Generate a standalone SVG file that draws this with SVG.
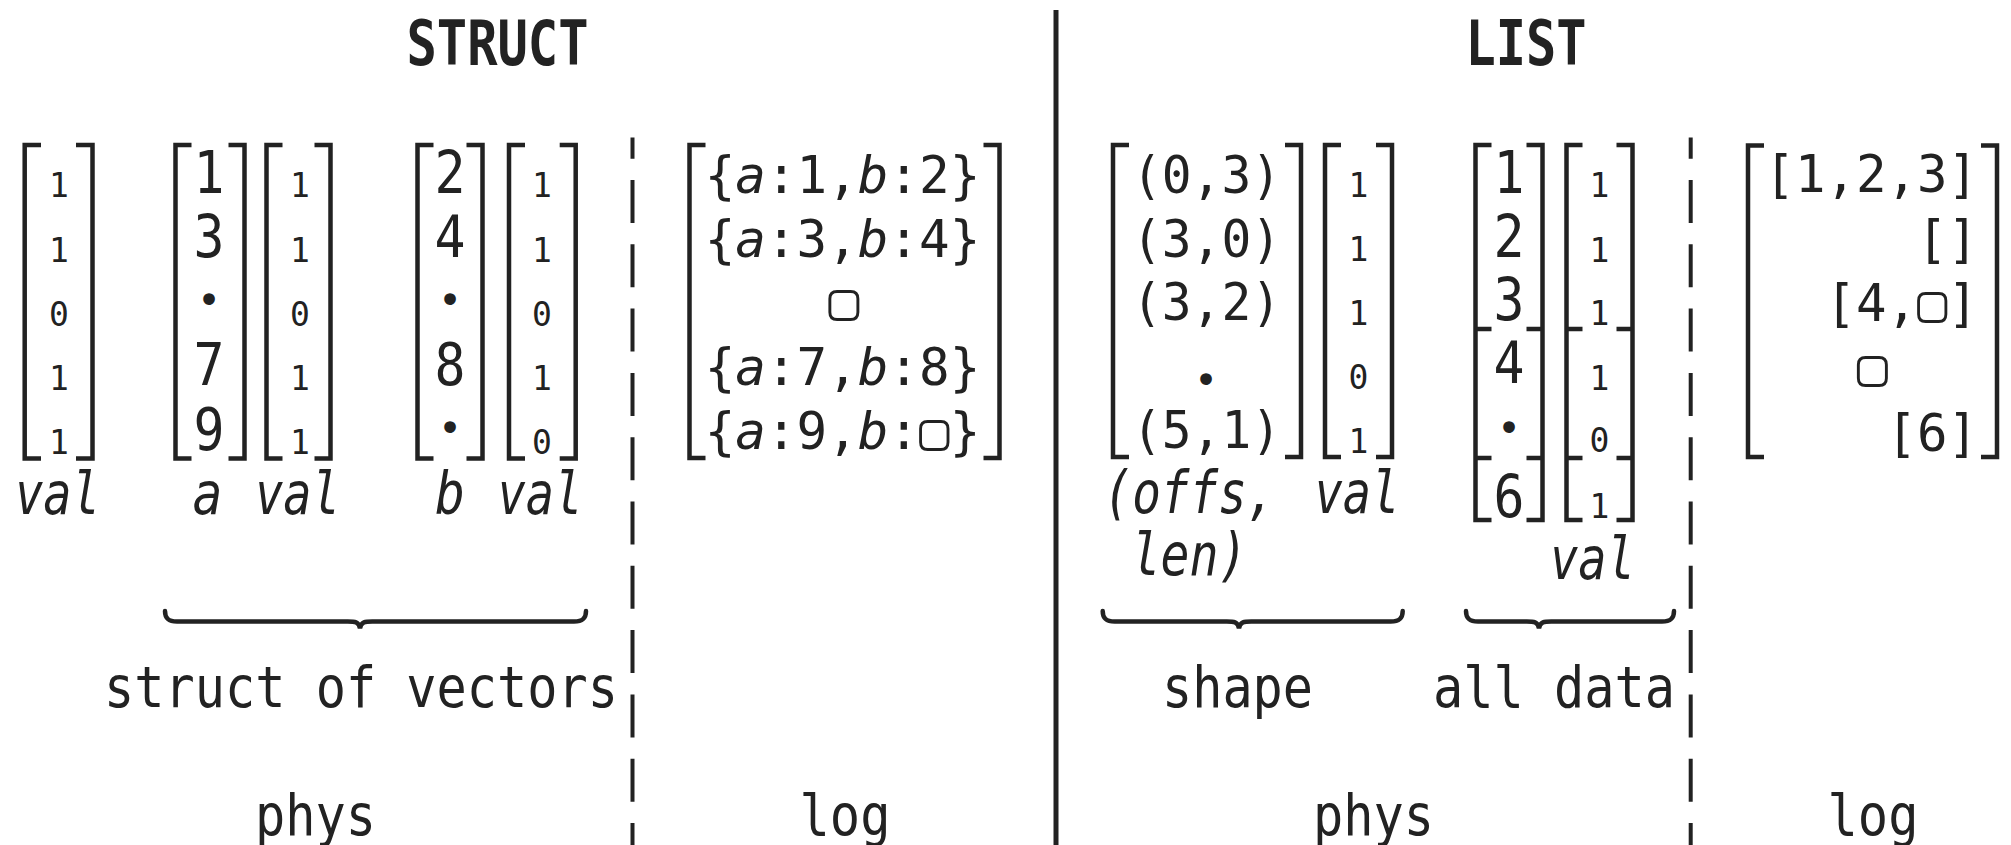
<svg xmlns="http://www.w3.org/2000/svg" width="2011" height="845" viewBox="0 0 2011 845">
<style>
text{font-family:"DejaVu Sans Mono","Liberation Mono",monospace;fill:#222;text-anchor:middle}
.t{font-weight:bold;font-size:62px}
.big{font-size:59px}
.sm{font-size:33px}
.lg{font-size:52px}
.lb{font-size:57px}
.it{font-style:italic;font-size:58px}
.dot{font-size:40px}
.br{fill:none;stroke:#222;stroke-width:4.5;stroke-linecap:butt;stroke-linejoin:miter}
.brace{fill:none;stroke:#222;stroke-width:4.5;stroke-linecap:round}
.dash{stroke:#222;stroke-width:4;stroke-dasharray:43 21.3;stroke-dashoffset:21.8}
.solid{stroke:#222;stroke-width:5}
</style>

<g id="titles">
<text class="t" x="497.5" y="65" textLength="182" lengthAdjust="spacingAndGlyphs">STRUCT</text>
<text class="t" x="1526" y="65" textLength="121" lengthAdjust="spacingAndGlyphs">LIST</text>
</g>

<g id="dividers">
<line class="solid" x1="1056" y1="10" x2="1056" y2="845"/>
<line class="dash" x1="632.5" y1="137.5" x2="632.5" y2="845"/>
<line class="dash" x1="1690.7" y1="137.5" x2="1690.7" y2="845"/>
</g>

<!-- STRUCT physical -->
<g id="struct-val">
<path class="br" d="M41,145 H24.7 V458.5 H41 M76,145 H92.5 V458.5 H76"/>
<text class="sm" x="59" y="197">1</text>
<text class="sm" x="59" y="262">1</text>
<text class="sm" x="59" y="326">0</text>
<text class="sm" x="59" y="390">1</text>
<text class="sm" x="59" y="454">1</text>
<text class="it" x="57.5" y="514" textLength="85" lengthAdjust="spacingAndGlyphs">val</text>
</g>

<g id="struct-a">
<path class="br" d="M191.5,145 H175.5 V458.5 H191.5 M228.5,145 H244.5 V458.5 H228.5"/>
<text class="big" x="209" y="193" textLength="31" lengthAdjust="spacingAndGlyphs">1</text>
<text class="big" x="209" y="257" textLength="31" lengthAdjust="spacingAndGlyphs">3</text>
<text class="dot" x="209" y="314">•</text>
<text class="big" x="209" y="385" textLength="31" lengthAdjust="spacingAndGlyphs">7</text>
<text class="big" x="209" y="450" textLength="31" lengthAdjust="spacingAndGlyphs">9</text>
<text class="it" x="207.5" y="514" textLength="30" lengthAdjust="spacingAndGlyphs">a</text>
</g>

<g id="struct-a-val">
<path class="br" d="M282.5,145 H266.5 V458.5 H282.5 M314.5,145 H330.5 V458.5 H314.5"/>
<text class="sm" x="300" y="197">1</text>
<text class="sm" x="300" y="262">1</text>
<text class="sm" x="300" y="326">0</text>
<text class="sm" x="300" y="390">1</text>
<text class="sm" x="300" y="454">1</text>
<text class="it" x="297.5" y="514" textLength="85" lengthAdjust="spacingAndGlyphs">val</text>
</g>

<g id="struct-b">
<path class="br" d="M433.5,145 H417.5 V458.5 H433.5 M466.5,145 H482.5 V458.5 H466.5"/>
<text class="big" x="450" y="193" textLength="31" lengthAdjust="spacingAndGlyphs">2</text>
<text class="big" x="450" y="257" textLength="31" lengthAdjust="spacingAndGlyphs">4</text>
<text class="dot" x="450" y="314">•</text>
<text class="big" x="450" y="385" textLength="31" lengthAdjust="spacingAndGlyphs">8</text>
<text class="dot" x="450" y="442">•</text>
<text class="it" x="450" y="514" textLength="30" lengthAdjust="spacingAndGlyphs">b</text>
</g>

<g id="struct-b-val">
<path class="br" d="M525,145 H509 V458.5 H525 M559.7,145 H575.7 V458.5 H559.7"/>
<text class="sm" x="542" y="197">1</text>
<text class="sm" x="542" y="262">1</text>
<text class="sm" x="542" y="326">0</text>
<text class="sm" x="542" y="390">1</text>
<text class="sm" x="542" y="454">0</text>
<text class="it" x="540" y="514" textLength="85" lengthAdjust="spacingAndGlyphs">val</text>
</g>

<g id="struct-log">
<path class="br" d="M705.5,145 H689.5 V458 H705.5 M983.5,145 H999.5 V458 H983.5"/>
<text class="lg" x="842.5" y="193" textLength="275.6" lengthAdjust="spacingAndGlyphs">{<tspan font-style="italic">a</tspan>:1,<tspan font-style="italic">b</tspan>:2}</text>
<text class="lg" x="842.5" y="257" textLength="275.6" lengthAdjust="spacingAndGlyphs">{<tspan font-style="italic">a</tspan>:3,<tspan font-style="italic">b</tspan>:4}</text>
<text class="lg" x="844" y="319">▢</text>
<text class="lg" x="842.5" y="385" textLength="275.6" lengthAdjust="spacingAndGlyphs">{<tspan font-style="italic">a</tspan>:7,<tspan font-style="italic">b</tspan>:8}</text>
<text class="lg" x="842.5" y="449" textLength="275.6" lengthAdjust="spacingAndGlyphs">{<tspan font-style="italic">a</tspan>:9,<tspan font-style="italic">b</tspan>:▢}</text>
</g>

<!-- LIST physical -->
<g id="list-shape">
<path class="br" d="M1129,145 H1113 V457 H1129 M1285,145 H1301 V457 H1285"/>
<text class="lg" x="1206.5" y="193" textLength="149" lengthAdjust="spacingAndGlyphs">(0,3)</text>
<text class="lg" x="1206.5" y="257" textLength="149" lengthAdjust="spacingAndGlyphs">(3,0)</text>
<text class="lg" x="1206.5" y="320" textLength="149" lengthAdjust="spacingAndGlyphs">(3,2)</text>
<text class="dot" x="1206" y="394">•</text>
<text class="lg" x="1206.5" y="448" textLength="149" lengthAdjust="spacingAndGlyphs">(5,1)</text>
<text class="it" x="1189.5" y="513" textLength="172" lengthAdjust="spacingAndGlyphs">(offs,</text>
<text class="it" x="1189.5" y="575" textLength="116" lengthAdjust="spacingAndGlyphs">len)</text>
</g>

<g id="list-shape-val">
<path class="br" d="M1341,145 H1325 V457 H1341 M1376,145 H1392 V457 H1376"/>
<text class="sm" x="1358.5" y="197">1</text>
<text class="sm" x="1358.5" y="261">1</text>
<text class="sm" x="1358.5" y="325">1</text>
<text class="sm" x="1358.5" y="389">0</text>
<text class="sm" x="1358.5" y="453">1</text>
<text class="it" x="1357" y="513" textLength="85" lengthAdjust="spacingAndGlyphs">val</text>
</g>

<g id="list-data">
<path class="br" d="M1491.5,145 H1475.5 V520 H1491.5 M1475.5,329 H1491.5 M1475.5,458 H1491.5 M1526.5,145 H1542.5 V520 H1526.5 M1526.5,329 H1542.5 M1526.5,458 H1542.5"/>
<text class="big" x="1509" y="193" textLength="31" lengthAdjust="spacingAndGlyphs">1</text>
<text class="big" x="1509" y="257" textLength="31" lengthAdjust="spacingAndGlyphs">2</text>
<text class="big" x="1509" y="320" textLength="31" lengthAdjust="spacingAndGlyphs">3</text>
<text class="big" x="1509" y="383" textLength="31" lengthAdjust="spacingAndGlyphs">4</text>
<text class="dot" x="1509" y="442">•</text>
<text class="big" x="1509" y="517" textLength="31" lengthAdjust="spacingAndGlyphs">6</text>
</g>

<g id="list-data-val">
<path class="br" d="M1582.5,145 H1566.5 V520 H1582.5 M1566.5,329 H1582.5 M1566.5,458 H1582.5 M1616.5,145 H1632.5 V520 H1616.5 M1616.5,329 H1632.5 M1616.5,458 H1632.5"/>
<text class="sm" x="1599.5" y="197">1</text>
<text class="sm" x="1599.5" y="262">1</text>
<text class="sm" x="1599.5" y="325">1</text>
<text class="sm" x="1599.5" y="390">1</text>
<text class="sm" x="1599.5" y="452">0</text>
<text class="sm" x="1599.5" y="518">1</text>
<text class="it" x="1592.5" y="579" textLength="85" lengthAdjust="spacingAndGlyphs">val</text>
</g>

<g id="list-log">
<path class="br" d="M1764,145.5 H1748 V457 H1764 M1981,145.5 H1997 V457 H1981"/>
<text class="lg" x="1978" y="192" style="text-anchor:end" textLength="213.5" lengthAdjust="spacingAndGlyphs">[1,2,3]</text>
<text class="lg" x="1978" y="257" style="text-anchor:end" textLength="61" lengthAdjust="spacingAndGlyphs">[]</text>
<text class="lg" x="1978" y="321" style="text-anchor:end" textLength="152.5" lengthAdjust="spacingAndGlyphs">[4,▢]</text>
<text class="lg" x="1872.5" y="385">▢</text>
<text class="lg" x="1978" y="451" style="text-anchor:end" textLength="91.5" lengthAdjust="spacingAndGlyphs">[6]</text>
</g>

<g id="braces">
<path class="brace" d="M165,611 C165,618 168,621.5 177,621.5 H346 C354,621.5 359,621 360,628.5 C361,621 366,621.5 374,621.5 H574 C583,621.5 586,618 586,611"/>
<path class="brace" d="M1102.7,611 C1102.7,618 1105.7,621.5 1114.7,621.5 H1225 C1233,621.5 1238,621 1239,628.5 C1240,621 1245,621.5 1253,621.5 H1390.7 C1399.7,621.5 1402.7,618 1402.7,611"/>
<path class="brace" d="M1466,611 C1466,618 1469,621.5 1478,621.5 H1525 C1533,621.5 1538,621 1539,628.5 C1540,621 1545,621.5 1553,621.5 H1662 C1671,621.5 1674,618 1674,611"/>
</g>

<g id="labels">
<text class="lb" x="361" y="707" textLength="514" lengthAdjust="spacingAndGlyphs">struct of vectors</text>
<text class="lb" x="315.5" y="835" textLength="121" lengthAdjust="spacingAndGlyphs">phys</text>
<text class="lb" x="845" y="835" textLength="91" lengthAdjust="spacingAndGlyphs">log</text>
<text class="lb" x="1237.5" y="707" textLength="151" lengthAdjust="spacingAndGlyphs">shape</text>
<text class="lb" x="1554" y="707" textLength="242" lengthAdjust="spacingAndGlyphs">all data</text>
<text class="lb" x="1373.5" y="835" textLength="121" lengthAdjust="spacingAndGlyphs">phys</text>
<text class="lb" x="1873" y="835" textLength="91" lengthAdjust="spacingAndGlyphs">log</text>
</g>
</svg>
